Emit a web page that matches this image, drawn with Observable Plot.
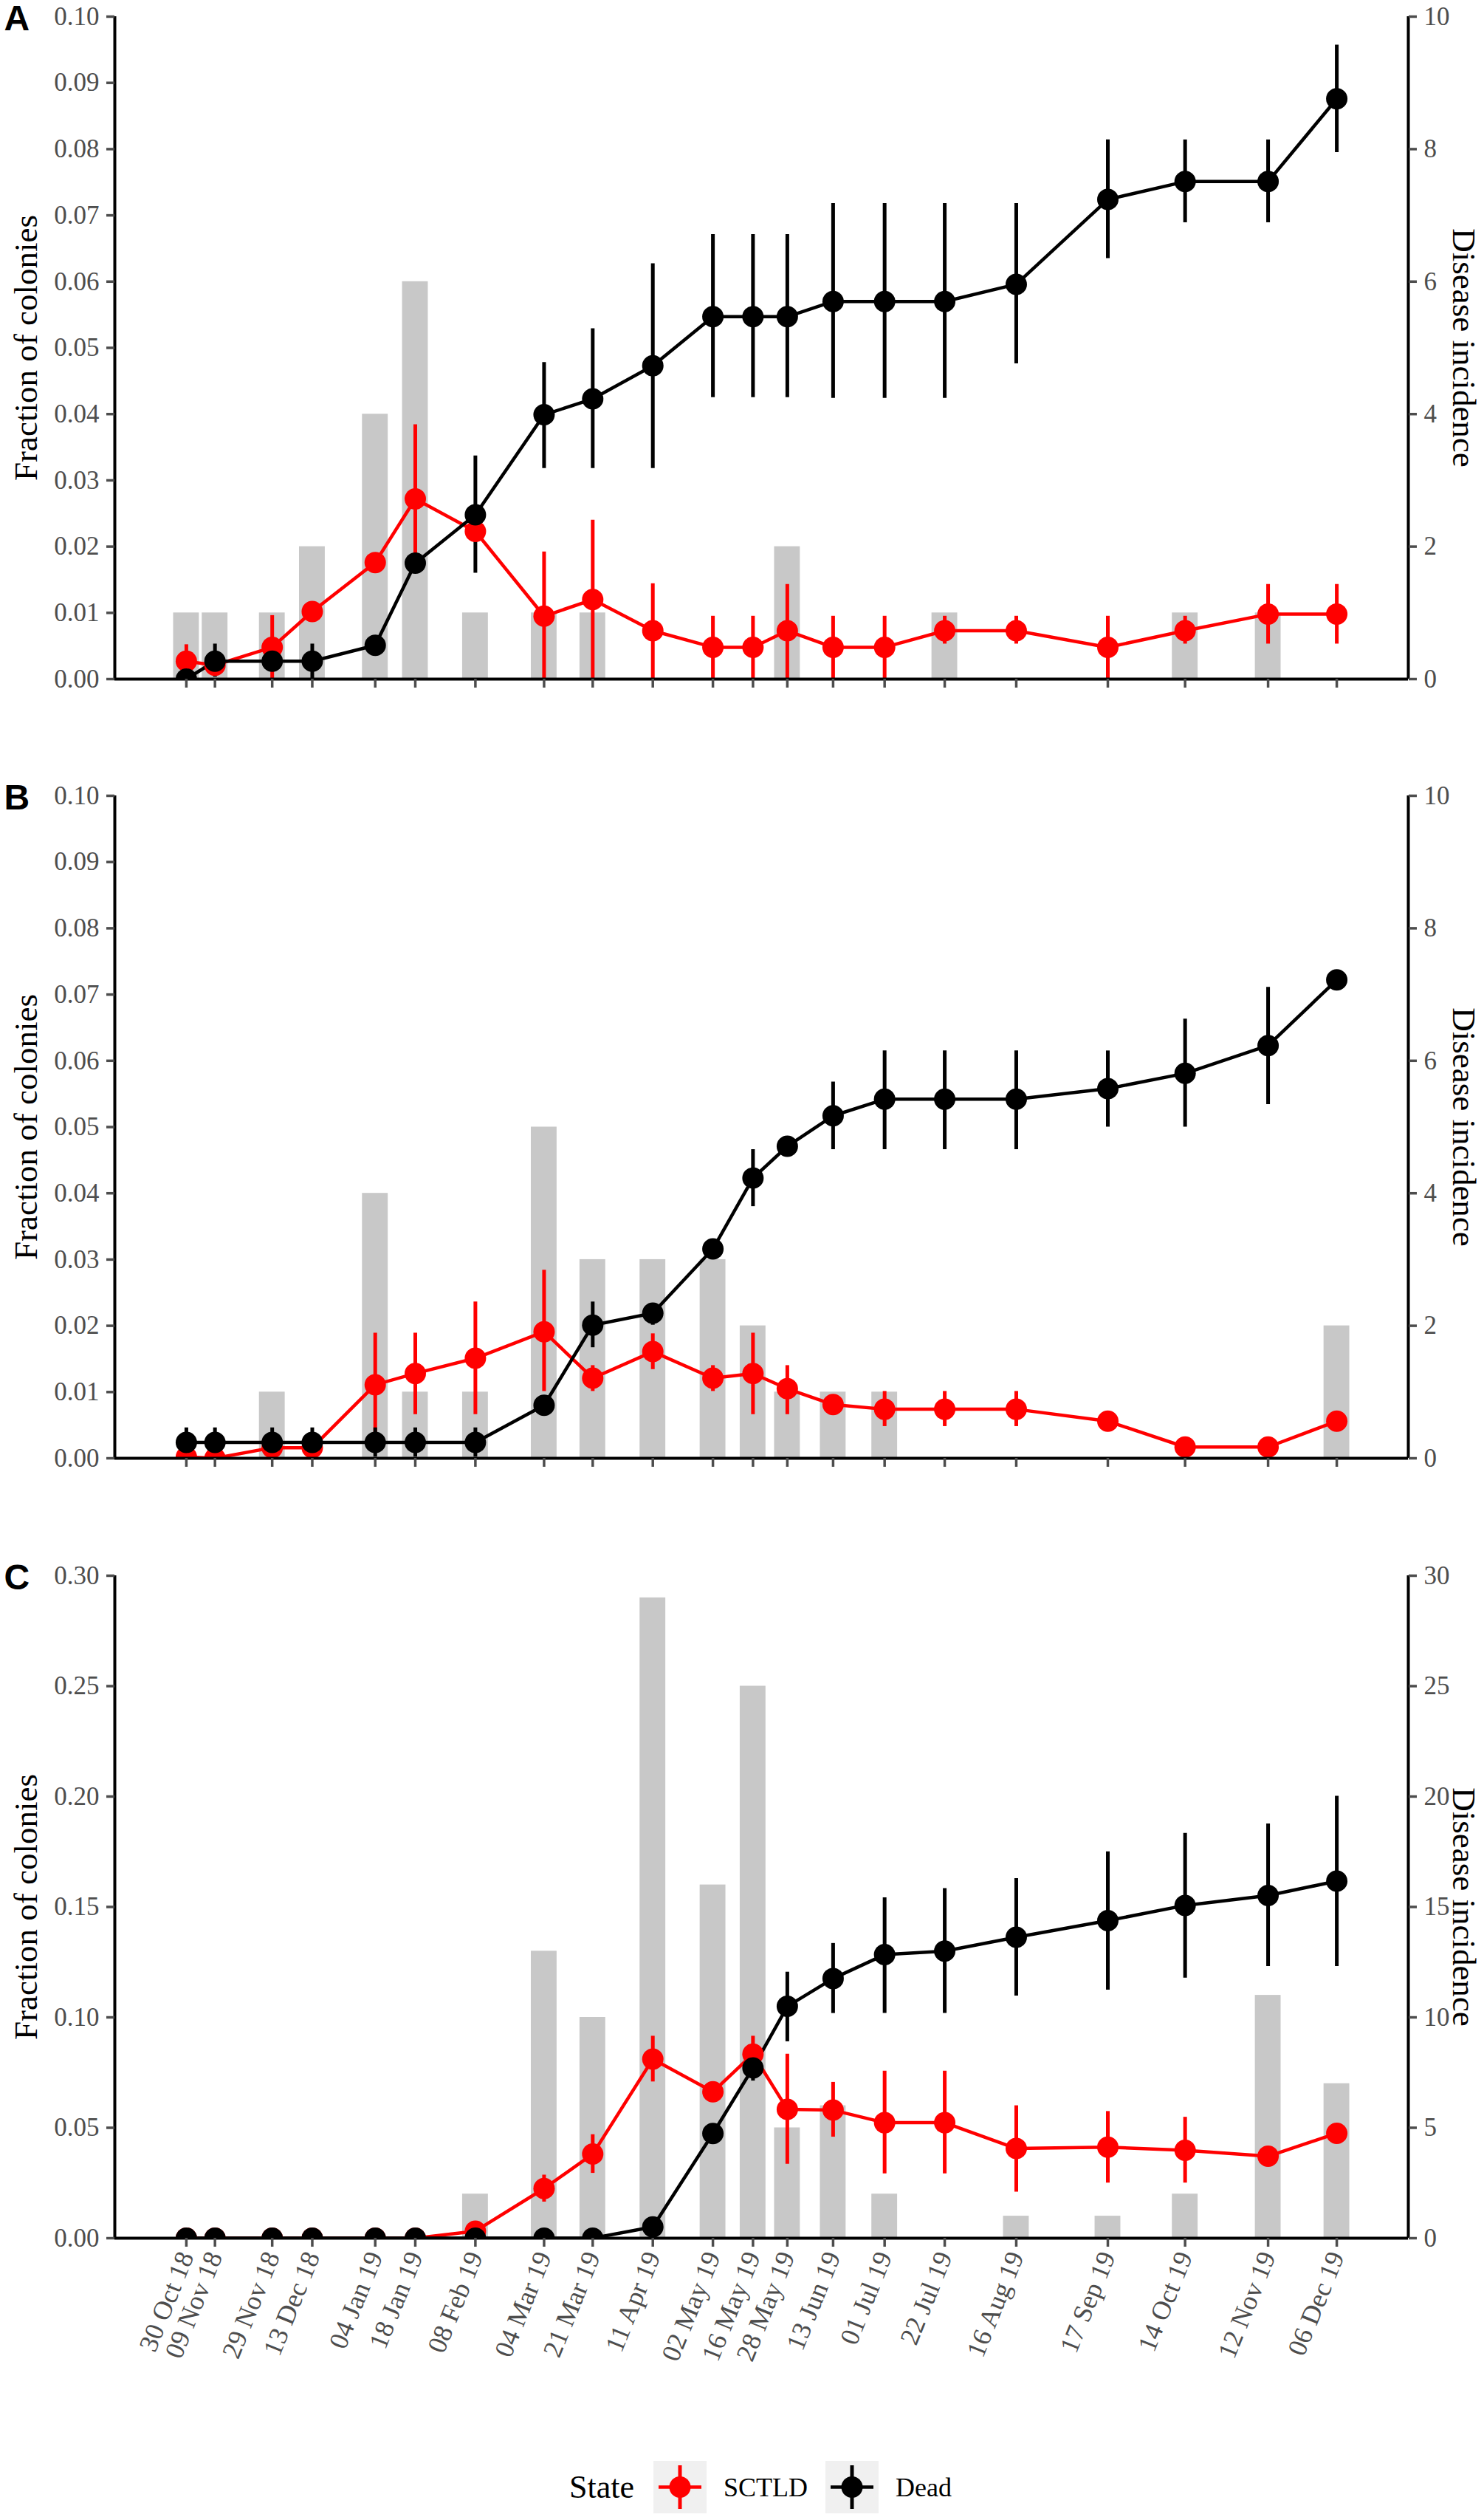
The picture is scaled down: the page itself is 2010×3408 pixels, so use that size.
<!DOCTYPE html>
<html><head><meta charset="utf-8">
<script src="https://cdn.jsdelivr.net/npm/d3@7"></script>
<script src="https://cdn.jsdelivr.net/npm/@observablehq/plot@0.6"></script>
<style>
html,body{margin:0;padding:0;background:#fff;}
#chart{width:2010px;}
#chart > svg{display:block;}
#legend{display:flex;align-items:center;margin-top:42px;padding-left:771px;height:71px;font-family:'Liberation Serif','Times New Roman',serif;color:#000;}
#legend .key{display:block;}
</style></head><body><div id="chart"></div>
<script>
// ---- shared x categories ----
const dates = ["2018-10-30","2018-11-09","2018-11-29","2018-12-13","2019-01-04","2019-01-18","2019-02-08","2019-03-04","2019-03-21","2019-04-11","2019-05-02","2019-05-16","2019-05-28","2019-06-13","2019-07-01","2019-07-22","2019-08-16","2019-09-17","2019-10-14","2019-11-12","2019-12-06"];
const tickLabels = ["30 Oct 18","09 Nov 18","29 Nov 18","13 Dec 18","04 Jan 19","18 Jan 19","08 Feb 19","04 Mar 19","21 Mar 19","11 Apr 19","02 May 19","16 May 19","28 May 19","13 Jun 19","01 Jul 19","22 Jul 19","16 Aug 19","17 Sep 19","14 Oct 19","12 Nov 19","06 Dec 19"];
const states = ["SCTLD","Dead"];
const stateColors = ["#ff0000","#000000"];

// ---- Panel A ----
const aSctld   = [0.0027,0.0021,0.0048,0.0102,0.0176,0.0272,0.0223,0.0095,0.0120,0.0073,0.0048,0.0048,0.0073,0.0048,0.0048,0.0073,0.0073,0.0048,0.0073,0.0098,0.0098];
const aSctldLo = [0.0002,null,0,null,null,0.0160,null,0,0,0,0,0,0,0,0,0.0053,0.0053,0,0.0053,0.0053,0.0053];
const aSctldHi = [0.0052,null,0.0096,null,null,0.0384,null,0.0192,0.0240,0.0144,0.0095,0.0095,0.0143,0.0095,0.0095,0.0095,0.0095,0.0095,0.0095,0.0143,0.0143];
const aDead    = [0,0.0027,0.0027,0.0027,0.0051,0.0175,0.0248,0.0399,0.0423,0.0473,0.0547,0.0547,0.0547,0.0570,0.0570,0.0570,0.0596,0.0724,0.0751,0.0751,0.0876];
const aDeadLo  = [null,0.0003,null,0.0001,null,null,0.0160,0.0318,0.0318,0.0318,0.0425,0.0425,0.0425,0.0424,0.0424,0.0424,0.0476,0.0635,0.0689,0.0689,0.0795];
const aDeadHi  = [null,0.0053,null,0.0053,null,null,0.0337,0.0478,0.0529,0.0627,0.0671,0.0671,0.0671,0.0718,0.0718,0.0718,0.0718,0.0814,0.0814,0.0814,0.0957];
const aBars    = [1,1,1,2,4,6,1,1,1,0,0,0,2,0,0,1,0,0,1,1,0];
const aLeftTicks  = [0,0.01,0.02,0.03,0.04,0.05,0.06,0.07,0.08,0.09,0.10];
const aRightTicks = [0,2,4,6,8,10];

// ---- Panel B ----
const bSctld   = [0.0002,0,0.0016,0.0016,0.0111,0.0128,0.0151,0.0191,0.0121,0.0161,0.0121,0.0128,0.0105,0.0081,0.0074,0.0074,0.0074,0.0056,0.0017,0.0017,0.0056];
const bSctldLo = [null,null,null,null,0.0033,0.0066,0.0066,0.0101,0.0101,0.0134,0.0101,0.0066,0.0066,null,0.0048,0.0048,0.0048,null,null,null,null];
const bSctldHi = [null,null,null,null,0.0189,0.0189,0.0236,0.0284,0.0140,0.0188,0.0140,0.0189,0.0140,null,0.0101,0.0101,0.0101,null,null,null,null];
const bDead    = [0.0024,0.0024,0.0024,0.0024,0.0024,0.0024,0.0024,0.0080,0.0201,0.0219,0.0316,0.0423,0.0471,0.0517,0.0542,0.0542,0.0542,0.0558,0.0581,0.0623,0.0722];
const bDeadLo  = [0.0002,0.0002,0.0002,0.0002,0.0002,0.0002,0.0002,null,0.0167,0.0201,null,0.0380,null,0.0466,0.0466,0.0466,0.0466,0.0500,0.0500,0.0534,null];
const bDeadHi  = [0.0046,0.0046,0.0046,0.0046,0.0046,0.0046,0.0046,null,0.0236,0.0234,null,0.0466,null,0.0568,0.0615,0.0615,0.0615,0.0615,0.0663,0.0711,null];
const bBars    = [0,0,1,0,4,1,1,5,3,3,3,2,1,1,1,0,0,0,0,0,2];
const bLeftTicks  = [0,0.01,0.02,0.03,0.04,0.05,0.06,0.07,0.08,0.09,0.10];
const bRightTicks = [0,2,4,6,8,10];

// ---- Panel C ----
const cSctld   = [0,0,0,0,0,0,0.0032,0.0225,0.0381,0.0811,0.0663,0.0834,0.0584,0.0580,0.0523,0.0523,0.0406,0.0412,0.0398,0.0371,0.0475];
const cSctldLo = [null,null,null,null,null,null,null,0.0164,0.0294,0.0708,null,0.0750,0.0335,0.0458,0.0292,0.0292,0.0209,0.0250,0.0250,null,null];
const cSctldHi = [null,null,null,null,null,null,null,0.0286,0.0469,0.0915,null,0.0915,0.0834,0.0706,0.0757,0.0757,0.0600,0.0574,0.0548,null,null];
const cDead    = [0,0,0,0,0,0,0,0,0,0.0051,0.0474,0.0771,0.1050,0.1176,0.1284,0.1300,0.1363,0.1438,0.1507,0.1552,0.1617];
const cDeadLo  = [null,null,null,null,null,null,null,null,null,null,null,0.0712,0.0890,0.1018,0.1018,0.1018,0.1097,0.1124,0.1178,0.1231,0.1231];
const cDeadHi  = [null,null,null,null,null,null,null,null,null,null,null,0.0830,0.1205,0.1335,0.1542,0.1584,0.1629,0.1750,0.1834,0.1876,0.2002];
const cBars    = [0,0,0,0,0,0,2,13,10,29,16,25,5,6,2,0,1,1,2,11,7];
const cLeftTicks  = [0,0.05,0.10,0.15,0.20,0.25,0.30];
const cRightTicks = [0,5,10,15,20,25,30];

const leftTitle = "Fraction of colonies";
const rightTitle = "Disease incidence";
const legendTitle = "State";

// ---- build ----
const parse = d3.utcParse("%Y-%m-%d");
const dateObjs = dates.map(parse);
const labelOf = new Map(dateObjs.map((d, i) => [+d, tickLabels[i]]));
const xDomain = [d3.utcDay.offset(dateObjs[0], -25), d3.utcDay.offset(dateObjs[dateObjs.length - 1], 25)];
const serif = "'Liberation Serif','Times New Roman',serif";

function panel(p) {
  const ratio = p.leftTicks[p.leftTicks.length - 1] / p.rightTicks[p.rightTicks.length - 1];
  const barRows = dateObjs.map((d, i) => ({date: d, n: p.bars[i]})).filter(r => r.n > 0);
  const series = [
    {color: stateColors[0], mean: p.sctld, lo: p.sctldLo, hi: p.sctldHi},
    {color: stateColors[1], mean: p.dead, lo: p.deadLo, hi: p.deadHi}
  ].map(s => ({...s, rows: dateObjs.map((d, i) => ({date: d, mean: s.mean[i], lo: s.lo[i], hi: s.hi[i]}))}));
  const marks = [
    Plot.rect(barRows, {x1: d => d3.utcHour.offset(d.date, -108), x2: d => d3.utcHour.offset(d.date, 108), y1: () => 0, y2: d => d.n * ratio, fill: "#c8c8c8"}),
    ...series.map(s => Plot.line(s.rows, {x: "date", y: "mean", stroke: s.color, strokeWidth: 4.5, clip: true})),
    ...series.map(s => Plot.ruleX(s.rows.filter(r => r.lo != null), {x: "date", y1: "lo", y2: "hi", stroke: s.color, strokeWidth: 5, clip: true})),
    ...series.map(s => Plot.dot(s.rows, {x: "date", y: "mean", r: 14.5, fill: s.color, clip: true})),
    Plot.ruleY([0], {stroke: "black", strokeWidth: 4}),
    Plot.ruleX(xDomain, {stroke: "black", strokeWidth: 4}),
    Plot.axisY({anchor: "left", ticks: p.leftTicks, tickFormat: d3.format(".2f"), tickSize: 11, tickPadding: 10, fontSize: 35, strokeWidth: 3.5, label: null}),
    Plot.axisY({anchor: "right", ticks: p.rightTicks.map(t => t * ratio), tickFormat: d => String(Math.round(d / ratio)), tickSize: 11, tickPadding: 10, fontSize: 35, strokeWidth: 3.5, label: null}),
    Plot.axisX({ticks: dateObjs, tickFormat: p.showLabels ? (d => labelOf.get(+d)) : (() => ""), tickSize: 12, tickPadding: 8, tickRotate: p.showLabels ? -68 : 0, fontSize: 36, strokeWidth: 3.5, label: null}),
    Plot.text([p.letter], {text: d => d, frameAnchor: "top-left", dx: -150, dy: -16, textAnchor: "start", lineAnchor: "top", fontFamily: "'Liberation Sans',Arial,sans-serif", fontWeight: "bold", fontSize: 48, fill: "black"}),
    Plot.text([leftTitle], {text: d => d, frameAnchor: "left", textAnchor: "middle", lineAnchor: "middle", rotate: -90, dx: -120, fontSize: 45, fill: "black"}),
    Plot.text([rightTitle], {text: d => d, frameAnchor: "right", textAnchor: "middle", lineAnchor: "middle", rotate: 90, dx: 75, fontSize: 45, fill: "black"})
  ];
  return Plot.plot({
    width: 2010, height: p.height, marginTop: p.marginTop, marginBottom: p.marginBottom, marginLeft: 155, marginRight: 103,
    x: {type: "utc", domain: xDomain},
    y: {domain: [p.leftTicks[0], p.leftTicks[p.leftTicks.length - 1]]},
    style: {fontFamily: serif, fontSize: "35px", color: "#4d4d4d", background: "white", overflow: "visible"},
    marks
  });
}

const chart = document.getElementById("chart");
chart.append(panel({letter: "A", sctld: aSctld, sctldLo: aSctldLo, sctldHi: aSctldHi, dead: aDead, deadLo: aDeadLo, deadHi: aDeadHi, bars: aBars, leftTicks: aLeftTicks, rightTicks: aRightTicks, showLabels: false, height: 1055, marginTop: 22, marginBottom: 136}));
chart.append(panel({letter: "B", sctld: bSctld, sctldLo: bSctldLo, sctldHi: bSctldHi, dead: bDead, deadLo: bDeadLo, deadHi: bDeadHi, bars: bBars, leftTicks: bLeftTicks, rightTicks: bRightTicks, showLabels: false, height: 1055, marginTop: 22, marginBottom: 136}));
chart.append(panel({letter: "C", sctld: cSctld, sctldLo: cSctldLo, sctldHi: cSctldHi, dead: cDead, deadLo: cDeadLo, deadHi: cDeadHi, bars: cBars, leftTicks: cLeftTicks, rightTicks: cRightTicks, showLabels: true, height: 1180, marginTop: 23, marginBottom: 260}));

// ---- legend ----
const legend = d3.select(chart).append("div").attr("id", "legend");
legend.append("span").style("font-size", "44px").style("margin-right", "26px").text(legendTitle);
states.forEach((s, i) => {
  const svg = legend.append("svg").attr("class", "key").attr("width", 72).attr("height", 71);
  svg.append("rect").attr("width", 72).attr("height", 71).attr("fill", "#f0f0f0");
  svg.append("line").attr("x1", 7).attr("x2", 65).attr("y1", 35.5).attr("y2", 35.5).attr("stroke", stateColors[i]).attr("stroke-width", 4.5);
  svg.append("line").attr("x1", 36).attr("x2", 36).attr("y1", 6).attr("y2", 65).attr("stroke", stateColors[i]).attr("stroke-width", 5);
  svg.append("circle").attr("cx", 36).attr("cy", 35.5).attr("r", 14.5).attr("fill", stateColors[i]);
  legend.append("span").style("font-size", "36px").style("margin-left", "23px").style("margin-right", i === 0 ? "24px" : "0px").text(s);
});
</script></body></html>
